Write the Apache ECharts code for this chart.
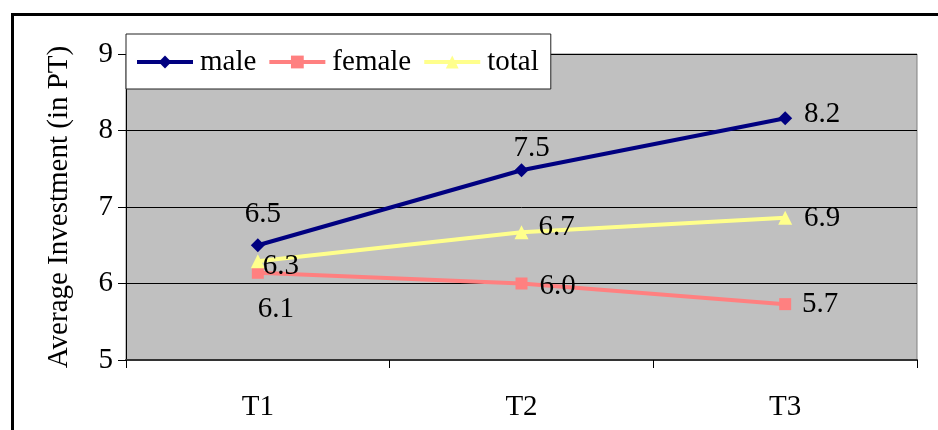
<!DOCTYPE html>
<html>
<head>
<meta charset="utf-8">
<title>Average Investment</title>
<script src="https://cdn.jsdelivr.net/npm/echarts@6/dist/echarts.min.js"></script>
<style>
  html, body { margin: 0; padding: 0; background: #ffffff; }
  #chart { width: 938px; height: 430px; }
</style>
</head>
<body>
<div id="chart"></div>
<script>
// Rounds of the experiment
const categories = ['T1', 'T2', 'T3'];

// Average investment per round (in PT)
const maleValues = [6.5, 7.48, 8.16];
const femaleValues = [6.14, 6.0, 5.73];
const totalValues = [6.29, 6.67, 6.86];

// Value axis
const yMin = 5;
const yMax = 9;
const yStep = 1;

const FONT = '"Liberation Serif", "DejaVu Serif", serif';
const FS = 29;

// Where each value label's centre sits relative to its marker centre, [dx, dy]
const labelShift = {
  male:   [[5, -31], [10, -22], [37, -4]],
  female: [[18, 37], [36, 3], [35, 0]],
  total:  [[23, 5], [35, -5], [37, 1]]
};

function pointsWithLabels(values, shifts, symbolSize) {
  const half = symbolSize / 2;
  return values.map(function (v, i) {
    return {
      value: v,
      label: {
        position: [half + shifts[i][0], half + shifts[i][1]],
        align: 'center',
        verticalAlign: 'middle'
      }
    };
  });
}

function lineSeries(name, values, shifts, color, symbol, symbolSize) {
  return {
    name: name,
    type: 'line',
    data: pointsWithLabels(values, shifts, symbolSize),
    symbol: symbol,
    symbolSize: symbolSize,
    showAllSymbol: true,
    lineStyle: { color: color, width: 4 },
    itemStyle: { color: color },
    emphasis: { disabled: true },
    label: {
      show: true,
      color: '#000000',
      fontFamily: FONT,
      fontSize: FS,
      formatter: function (p) { return p.value.toFixed(1); }
    },
    labelLayout: { hideOverlap: false },
    z: 3
  };
}

const chart = echarts.init(document.getElementById('chart'), null, { renderer: 'canvas' });

chart.setOption({
  animation: false,
  backgroundColor: '#ffffff',
  textStyle: { fontFamily: FONT },
  grid: {
    left: 126,
    right: 21,
    top: 54,
    bottom: 70,
    show: true,
    backgroundColor: '#C0C0C0',
    borderColor: '#808080',
    borderWidth: 1
  },
  legend: {
    left: 126,
    top: 34,
    orient: 'horizontal',
    backgroundColor: '#ffffff',
    borderColor: '#222222',
    borderWidth: 1,
    padding: [12, 12, 11, 9],
    itemWidth: 56,
    itemHeight: 16,
    itemGap: 11,
    z: 10,
    lineStyle: { width: 4 },
    textStyle: {
      fontFamily: FONT,
      fontSize: FS,
      color: '#000000',
      lineHeight: 32,
      padding: [0, 0, 0, 2]
    },
    data: ['male', 'female', 'total']
  },
  xAxis: {
    type: 'category',
    data: categories,
    boundaryGap: true,
    axisLine: { show: true, lineStyle: { color: '#333333', width: 2 } },
    axisTick: { show: true, length: 8, lineStyle: { color: '#000000', width: 1 } },
    axisLabel: {
      margin: 33,
      fontFamily: FONT,
      fontSize: FS,
      color: '#000000'
    },
    splitLine: { show: false }
  },
  yAxis: {
    type: 'value',
    min: yMin,
    max: yMax,
    interval: yStep,
    name: 'Average Investment (in PT)',
    nameLocation: 'middle',
    nameGap: 52,
    nameRotate: 90,
    nameTextStyle: {
      fontFamily: FONT,
      fontSize: 29,
      color: '#000000'
    },
    axisLine: { show: true, lineStyle: { color: '#000000', width: 1 } },
    axisTick: { show: true, length: 8, lineStyle: { color: '#000000', width: 1 } },
    axisLabel: {
      margin: 13,
      fontFamily: FONT,
      fontSize: FS,
      color: '#000000'
    },
    splitLine: { show: true, lineStyle: { color: '#000000', width: 1 } }
  },
  graphic: [
    {
      type: 'rect',
      left: 10,
      top: 12,
      shape: { x: 0, y: 0, width: 1000, height: 1000 },
      style: { fill: null, stroke: '#000000', lineWidth: 3 },
      silent: true,
      z: 100
    }
  ],
  series: [
    lineSeries('male', maleValues, labelShift.male, '#000080', 'diamond', 14),
    lineSeries('female', femaleValues, labelShift.female, '#FF8080', 'rect', 12),
    lineSeries('total', totalValues, labelShift.total, '#FFFF8C', 'triangle', 14)
  ]
});
</script>
</body>
</html>
